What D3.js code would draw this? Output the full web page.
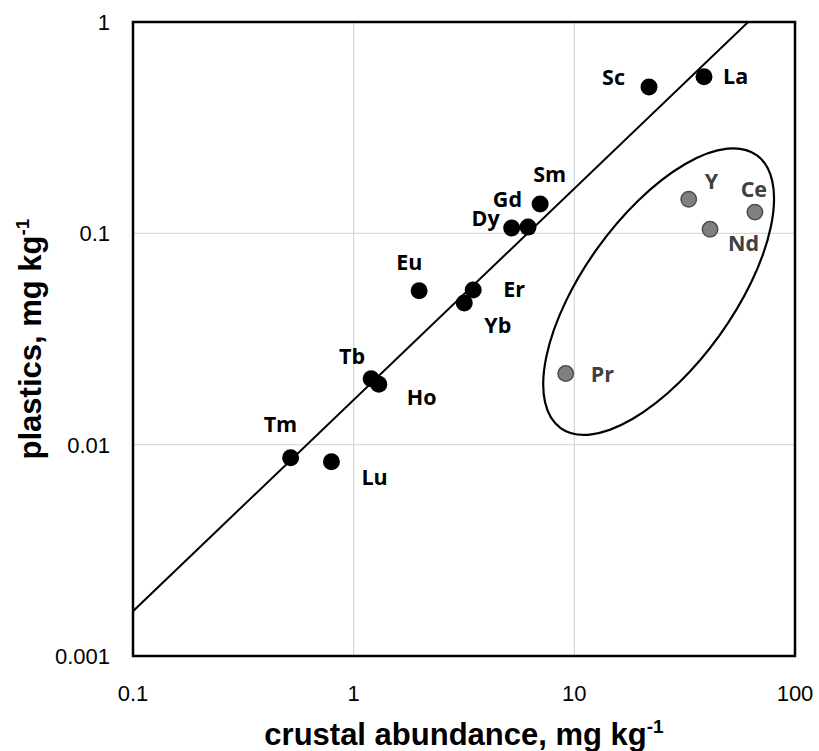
<!DOCTYPE html>
<html lang="en">
<head>
  <meta charset="UTF-8" />
  <title>Plastics vs crustal abundance</title>
  <script src="https://d3js.org/d3.v7.min.js"></script>
  <style>
    body { margin: 0; background: white; }
    svg { display: block; }
    .tick-label { font-family: "Liberation Sans", Arial, sans-serif; font-size: 22px; fill: #000; }
    .axis-title { font-family: "Liberation Sans", Arial, sans-serif; font-size: 31px; font-weight: bold; fill: #000; }
    .el-label { font-family: "Open Sans", "Noto Sans", sans-serif; font-size: 21.5px; font-weight: bold; }
  </style>
</head>
<body>
<svg width="819" height="751"></svg>
<script>
// element labels, crustal abundance (x) and plastics content (y), mg/kg
const elements = ["Sc", "La", "Sm", "Gd", "Dy", "Eu", "Er", "Yb", "Tb", "Ho", "Tm", "Lu", "Y", "Ce", "Nd", "Pr"];
const crustal  = [21.8, 38.7, 7.0, 6.17, 5.2, 1.98, 3.48, 3.17, 1.2, 1.3, 0.518, 0.793, 33.0, 65.8, 41.2, 9.14];
const plastics = [0.492, 0.551, 0.1376, 0.107, 0.106, 0.0535, 0.0539, 0.0468, 0.0205, 0.0193, 0.00867, 0.0083, 0.145, 0.126, 0.1045, 0.0217];
const outliers = ["Y", "Ce", "Nd", "Pr"];

const xTicks = [0.1, 1, 10, 100];
const yTicks = [0.001, 0.01, 0.1, 1];

// trend line y = k * x
const trendK = 0.0163;

// label placement (px offsets from the marker)
const labelPos = {
  Sc: ["end", -24, -2], La: ["start", 19, 7], Sm: ["start", -7, -22], Gd: ["end", -6, -20],
  Dy: ["end", -12, -2], Eu: ["start", -23, -21], Er: ["start", 30, 7], Yb: ["start", 20, 30],
  Tb: ["end", -6, -15], Ho: ["start", 28, 21], Tm: ["start", -27, -26], Lu: ["start", 30, 23],
  Y: ["start", 16, -10], Ce: ["middle", -1, -15], Nd: ["start", 18, 22], Pr: ["start", 25, 8]
};

const points = elements.map((e, i) => ({ el: e, x: crustal[i], y: plastics[i], out: outliers.includes(e) }));

const svg = d3.select("svg");
const margin = { top: 22, right: 24, bottom: 95, left: 133 };
const W = 819, H = 751;
const x = d3.scaleLog().domain([0.1, 100]).range([margin.left, W - margin.right]);
const y = d3.scaleLog().domain([0.001, 1]).range([H - margin.bottom, margin.top]);

svg.append("defs").append("clipPath").attr("id", "plot")
  .append("rect").attr("x", x(0.1)).attr("y", y(1))
  .attr("width", x(100) - x(0.1)).attr("height", y(0.001) - y(1));

// gridlines
svg.append("g").selectAll("line").data(xTicks.slice(1, -1)).join("line")
  .attr("x1", d => x(d)).attr("x2", d => x(d)).attr("y1", y(1)).attr("y2", y(0.001))
  .attr("stroke", "#d9d9d9").attr("stroke-width", 1.3);
svg.append("g").selectAll("line").data(yTicks.slice(1, -1)).join("line")
  .attr("y1", d => y(d)).attr("y2", d => y(d)).attr("x1", x(0.1)).attr("x2", x(100))
  .attr("stroke", "#d9d9d9").attr("stroke-width", 1.3);

// tick labels
svg.append("g").selectAll("text").data(xTicks).join("text")
  .attr("class", "tick-label").attr("x", d => x(d)).attr("y", y(0.001) + 45)
  .attr("text-anchor", "middle").text(d => d3.format("~g")(d));
svg.append("g").selectAll("text").data(yTicks).join("text")
  .attr("class", "tick-label").attr("x", x(0.1) - 23).attr("y", d => y(d) + 8)
  .attr("text-anchor", "end").text(d => d3.format("~g")(d));

// trend line
const trendX = [0.1, 100];
svg.append("path")
  .attr("clip-path", "url(#plot)")
  .attr("d", d3.line().x(d => x(d)).y(d => y(trendK * d))(trendX))
  .attr("fill", "none").attr("stroke", "#000").attr("stroke-width", 2);

// ellipse round the outlying elements
const ell = { cx: 24.1, cy: 0.053, rx: 168, ry: 75, angle: -54.3 };
svg.append("ellipse")
  .attr("transform", `translate(${x(ell.cx)},${y(ell.cy)}) rotate(${ell.angle})`)
  .attr("rx", ell.rx).attr("ry", ell.ry)
  .attr("fill", "none").attr("stroke", "#000").attr("stroke-width", 2.2);

// markers
svg.append("g").selectAll("circle").data(points).join("circle")
  .attr("cx", d => x(d.x)).attr("cy", d => y(d.y)).attr("r", d => d.out ? 7.7 : 8.5)
  .attr("fill", d => d.out ? "#808080" : "#000")
  .attr("stroke", d => d.out ? "#4d4d4d" : "none").attr("stroke-width", 1.5);

// labels
svg.append("g").selectAll("text").data(points).join("text")
  .attr("class", "el-label")
  .attr("x", d => x(d.x) + labelPos[d.el][1]).attr("y", d => y(d.y) + labelPos[d.el][2])
  .attr("text-anchor", d => labelPos[d.el][0])
  .attr("fill", d => d.out ? "#404040" : "#000")
  .text(d => d.el);

// frame
svg.append("rect").attr("x", x(0.1)).attr("y", y(1))
  .attr("width", x(100) - x(0.1)).attr("height", y(0.001) - y(1))
  .attr("fill", "none").attr("stroke", "#000").attr("stroke-width", 2.5);

// axis titles
const xt = svg.append("text").attr("class", "axis-title")
  .attr("x", (x(0.1) + x(100)) / 2).attr("y", 745).attr("text-anchor", "middle");
xt.append("tspan").text("crustal abundance, mg kg");
xt.append("tspan").attr("font-size", "19px").attr("dy", -12).text("-1");

const yt = svg.append("text").attr("class", "axis-title")
  .attr("transform", `translate(41,${(y(1) + y(0.001)) / 2}) rotate(-90)`).attr("text-anchor", "middle");
yt.append("tspan").text("plastics, mg kg");
yt.append("tspan").attr("font-size", "19px").attr("dy", -12).text("-1");
</script>
</body>
</html>
